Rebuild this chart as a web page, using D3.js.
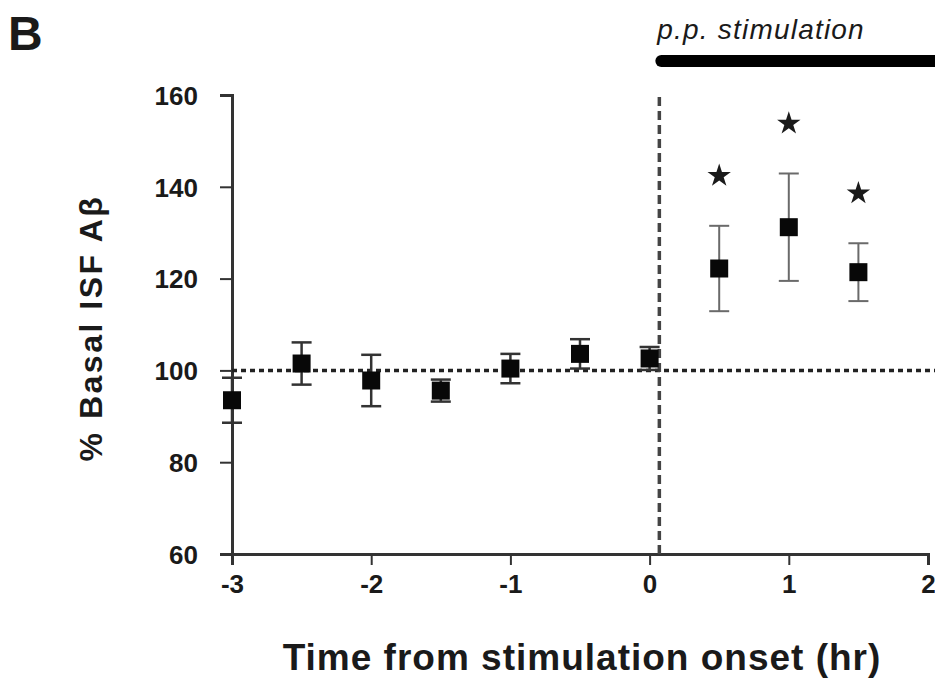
<!DOCTYPE html>
<html>
<head>
<meta charset="utf-8">
<script src="https://cdn.jsdelivr.net/npm/d3@7"></script>
<style>
  body { margin: 0; background: #fff; }
  text { font-family: "Liberation Sans", Arial, sans-serif; fill: #1a1a1a; }
</style>
</head>
<body>
<div id="chart"></div>
<script>
// time from stimulation onset (hr)
var times = [-3, -2.5, -2, -1.5, -1, -0.5, 0, 0.5, 1, 1.5];
// % basal ISF Abeta (mean)
var means = [93.5, 101.5, 97.8, 95.6, 100.4, 103.6, 102.6, 122.2, 131.2, 121.4];
// SEM
var sems = [4.9, 4.6, 5.6, 2.4, 3.2, 3.2, 2.5, 9.3, 11.7, 6.3];
// significance marks
var signif = [false, false, false, false, false, false, false, true, true, true];

var xTicks = [-3, -2, -1, 0, 1, 2];
var yTicks = [60, 80, 100, 120, 140, 160];
var baseline = 100;
var stimOnset = 0.07;

var width = 935, height = 689;

var svg = d3.select('#chart')
    .append('svg')
    .attr('width', width)
    .attr('height', height);

var x = d3.scaleLinear().domain([-3, 2]).range([232, 928]);
var y = d3.scaleLinear().domain([60, 160]).range([554, 95]);

//axes
var xAxis = svg.append('g')
    .attr('transform', 'translate(0,554)')
    .call(d3.axisBottom(x).tickValues(xTicks).tickSize(11).tickPadding(10)
        .tickFormat(function (d) { return String(d); }));
var yAxis = svg.append('g')
    .attr('transform', 'translate(232,0)')
    .call(d3.axisLeft(y).tickValues(yTicks).tickSize(12).tickPadding(22));

[xAxis, yAxis].forEach(function (g) {
    g.select('.domain').attr('stroke', '#333').attr('stroke-width', 3);
    g.selectAll('.tick line').attr('stroke', '#333').attr('stroke-width', 2);
    g.selectAll('.tick text')
        .style('font-size', '26px')
        .style('font-weight', 'bold')
        .attr('fill', '#1a1a1a');
});
yAxis.selectAll('.tick text').attr('dy', '0.36em');

//baseline (dotted)
svg.append('line')
    .attr('x1', x(-3)).attr('x2', width)
    .attr('y1', y(baseline)).attr('y2', y(baseline))
    .attr('stroke', '#222')
    .attr('stroke-width', 3.5)
    .attr('stroke-dasharray', '5,4');

//stimulation onset (dashed)
svg.append('line')
    .attr('x1', x(stimOnset)).attr('x2', x(stimOnset))
    .attr('y1', y(160) + 2).attr('y2', y(60))
    .attr('stroke', '#444')
    .attr('stroke-width', 3.5)
    .attr('stroke-dasharray', '9,5');

var data = times.map(function (t, i) {
    return { t: t, m: means[i], e: sems[i], s: signif[i] };
});

//error bars
var eb = svg.selectAll('.err')
    .data(data)
    .enter()
    .append('g')
    .attr('class', 'err')
    .attr('stroke', function (d) { return d.t > 0 ? '#6a6a6a' : '#333'; })
    .attr('stroke-width', function (d) { return d.t > 0 ? 2 : 2.5; });
eb.append('line')
    .attr('x1', function (d) { return x(d.t); })
    .attr('x2', function (d) { return x(d.t); })
    .attr('y1', function (d) { return y(d.m + d.e); })
    .attr('y2', function (d) { return y(d.m - d.e); });
[1, -1].forEach(function (sgn) {
    eb.append('line')
        .attr('x1', function (d) { return x(d.t) - 10; })
        .attr('x2', function (d) { return x(d.t) + 10; })
        .attr('y1', function (d) { return y(d.m + sgn * d.e); })
        .attr('y2', function (d) { return y(d.m + sgn * d.e); });
});

//markers
var sq = 18;
svg.selectAll('.pt')
    .data(data)
    .enter()
    .append('rect')
    .attr('class', 'pt')
    .attr('x', function (d) { return x(d.t) - sq / 2; })
    .attr('y', function (d) { return y(d.m) - sq / 2; })
    .attr('width', sq)
    .attr('height', sq)
    .attr('fill', '#080808');

//asterisks
var star = d3.symbol().type(d3.symbolStar).size(170);
svg.selectAll('.star')
    .data(data.filter(function (d) { return d.s; }))
    .enter()
    .append('path')
    .attr('class', 'star')
    .attr('d', star)
    .attr('transform', function (d) {
        return 'translate(' + x(d.t) + ',' + (y(d.m + d.e) - 50) + ')';
    })
    .attr('fill', '#1a1a1a');

//stimulation bar
svg.append('line')
    .attr('x1', x(stimOnset) + 2).attr('x2', width + 10)
    .attr('y1', 61).attr('y2', 61)
    .attr('stroke', '#000')
    .attr('stroke-width', 12)
    .attr('stroke-linecap', 'round');
svg.append('text')
    .attr('x', x(stimOnset) - 2)
    .attr('y', 39)
    .style('font-size', '28px')
    .style('letter-spacing', '1.2px')
    .style('font-style', 'italic')
    .text('p.p. stimulation');

//panel letter
svg.append('text')
    .attr('x', 8).attr('y', 50)
    .style('font-size', '48px')
    .style('font-weight', 'bold')
    .text('B');

//axis titles
svg.append('text')
    .attr('x', 582)
    .attr('y', 670)
    .attr('text-anchor', 'middle')
    .style('font-size', '37px')
    .style('font-weight', 'bold')
    .style('letter-spacing', '1px')
    .text('Time from stimulation onset (hr)');
svg.append('text')
    .attr('transform', 'translate(102,328) rotate(-90)')
    .attr('text-anchor', 'middle')
    .style('font-size', '32px')
    .style('font-weight', 'bold')
    .style('letter-spacing', '2.5px')
    .text('% Basal ISF A\u03B2');
</script>
</body>
</html>
